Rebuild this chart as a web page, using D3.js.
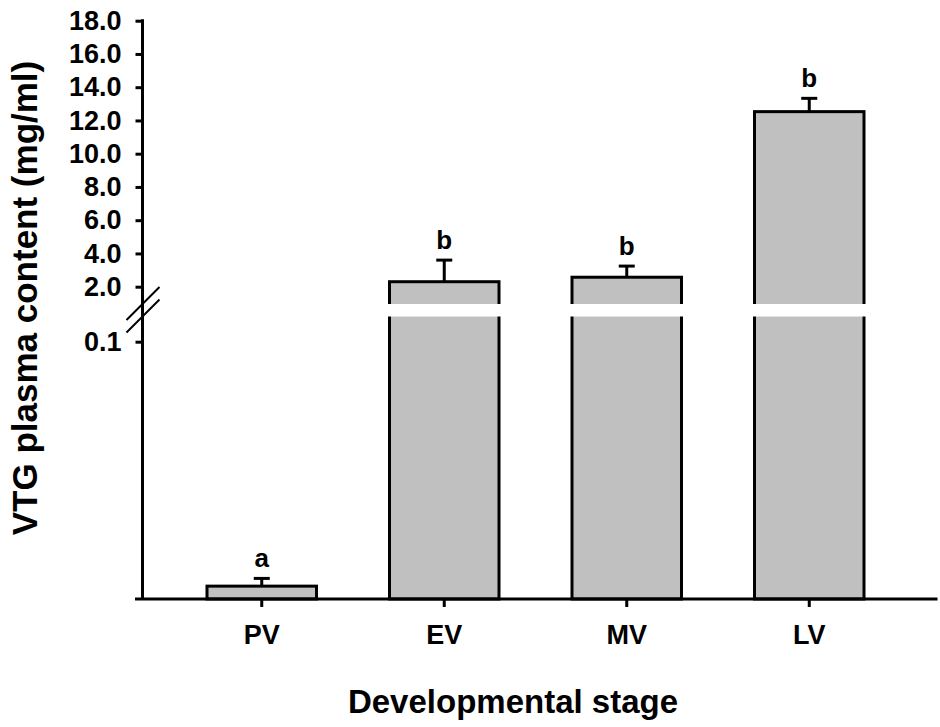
<!DOCTYPE html>
<html>
<head>
<meta charset="utf-8">
<script src="https://cdn.jsdelivr.net/npm/d3@7/dist/d3.min.js"></script>
<style>
  html, body { margin: 0; padding: 0; background: #fff; }
  svg { display: block; }
  text { font-family: "Liberation Sans", Arial, sans-serif; font-weight: bold; fill: #000; }
</style>
</head>
<body>
<svg id="chart" width="940" height="727"></svg>
<script>
// ---- data ----
const categories = ["PV", "EV", "MV", "LV"];
const means = [0.005, 2.3, 2.57, 12.53];
const errors = [0.003, 1.3, 0.67, 0.8];
const letters = ["a", "b", "b", "b"];
const upperTicks = [2, 4, 6, 8, 10, 12, 14, 16, 18];
const lowerTicks = [0.1];

// ---- layout ----
const svg = d3.select("#chart");
const axisX = 142.5;
const baseY = 599;
const upperBottom = 304;     // where upper segment ends (break)
const lowerTop = 316.5;      // where lower segment begins (break)

const x = d3.scaleBand().domain(categories).range([170.5, 900.5])
  .paddingInner(0.4).paddingOuter(0.2);
const yHigh = d3.scaleLinear().domain([2, 18]).range([286.7, 20.7]);
const yLow = d3.scaleLinear().domain([0, 0.1]).range([baseY, 341.7]);

function yVal(v) { return v >= 2 ? yHigh(v) : yLow(v); }

const data = categories.map((c, i) => ({ c, m: means[i], e: errors[i], l: letters[i] }));

// bars
const gBars = svg.append("g");
gBars.selectAll("rect.bar").data(data).enter().append("rect")
  .attr("class", "bar")
  .attr("x", d => x(d.c))
  .attr("width", x.bandwidth())
  .attr("y", d => yVal(d.m))
  .attr("height", d => baseY - yVal(d.m))
  .attr("fill", "#c0c0c0")
  .attr("stroke", "#000")
  .attr("stroke-width", 3);

// white break gap across bars in upper segment
gBars.selectAll("rect.gap").data(data.filter(d => d.m >= 2)).enter().append("rect")
  .attr("x", d => x(d.c) - 3)
  .attr("width", x.bandwidth() + 6)
  .attr("y", upperBottom)
  .attr("height", lowerTop - upperBottom)
  .attr("fill", "#fff");

// error bars
const capW = 16;
const gErr = svg.append("g").attr("stroke", "#000").attr("stroke-width", 3);
data.forEach(d => {
  const cx = x(d.c) + x.bandwidth() / 2;
  const top = yVal(d.m + d.e);
  gErr.append("line").attr("x1", cx).attr("x2", cx).attr("y1", yVal(d.m)).attr("y2", top);
  gErr.append("line").attr("x1", cx - capW / 2).attr("x2", cx + capW / 2).attr("y1", top).attr("y2", top);
});

// significance letters
svg.append("g").selectAll("text").data(data).enter().append("text")
  .attr("x", d => x(d.c) + x.bandwidth() / 2)
  .attr("y", d => yVal(d.m + d.e) - 11)
  .attr("text-anchor", "middle")
  .style("font-size", "26px")
  .text(d => d.l);

// y axis line (continuous)
svg.append("line").attr("x1", axisX).attr("x2", axisX)
  .attr("y1", yHigh(18) - 1.5).attr("y2", baseY)
  .attr("stroke", "#000").attr("stroke-width", 3);

// y ticks
function styleAxis(g) {
  g.select(".domain").remove();
  g.selectAll(".tick line").attr("stroke", "#000").attr("stroke-width", 3);
  g.selectAll(".tick text").style("font-size", "27px").attr("font-family", null).attr("fill", "#000");
}
svg.append("g").attr("transform", `translate(${axisX},0)`)
  .call(d3.axisLeft(yHigh).tickValues(upperTicks).tickFormat(d3.format(".1f")).tickSize(7).tickPadding(14))
  .call(styleAxis);
svg.append("g").attr("transform", `translate(${axisX},0)`)
  .call(d3.axisLeft(yLow).tickValues(lowerTicks).tickFormat(d3.format(".1f")).tickSize(7).tickPadding(14))
  .call(styleAxis);

// break marks
const gBreak = svg.append("g").attr("stroke", "#000").attr("stroke-width", 2);
[upperBottom, lowerTop].forEach(yc => {
  gBreak.append("line")
    .attr("x1", axisX - 16).attr("y1", yc + 16)
    .attr("x2", axisX + 17).attr("y2", yc - 17);
});

// x axis
svg.append("line").attr("x1", 135).attr("x2", 937.5)
  .attr("y1", baseY).attr("y2", baseY)
  .attr("stroke", "#000").attr("stroke-width", 3);
const gx = svg.append("g").attr("transform", `translate(0,${baseY})`)
  .call(d3.axisBottom(x).tickSize(8).tickPadding(18));
gx.select(".domain").remove();
gx.selectAll(".tick line").attr("stroke", "#000").attr("stroke-width", 3);
gx.selectAll(".tick text").style("font-size", "27px").attr("font-family", null).attr("fill", "#000");

// axis titles
svg.append("text")
  .attr("x", 513).attr("y", 713)
  .attr("text-anchor", "middle")
  .style("font-size", "33px")
  .text("Developmental stage");
svg.append("text")
  .attr("transform", "translate(37,298) rotate(-90)")
  .attr("text-anchor", "middle")
  .style("font-size", "35px")
  .text("VTG plasma content (mg/ml)");
</script>
</body>
</html>
